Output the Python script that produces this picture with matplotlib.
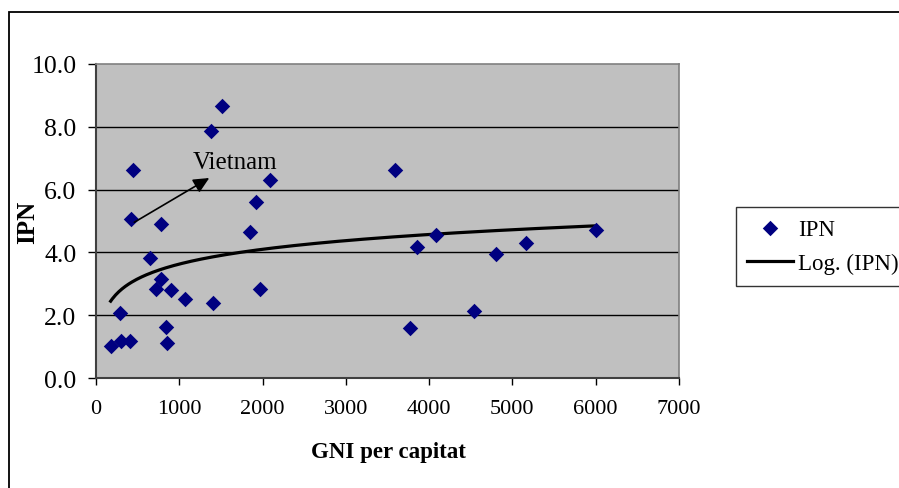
import numpy as np
import matplotlib
matplotlib.use("Agg")
import matplotlib.pyplot as plt
from matplotlib.patches import Rectangle

plt.rcParams["font.family"] = ["Liberation Serif", "DejaVu Serif"]

# GNI per capita vs IPN
gni = [176, 292, 300, 408, 448, 420, 648, 784, 720, 784, 897, 840, 856,
       1065, 1377, 1401, 1513, 1849, 1917, 1969, 2093,
       3589, 3853, 4082, 3766, 4534, 4806, 5166, 6002]
ipn = [1.01, 2.06, 1.17, 1.17, 6.61, 5.07, 3.81, 4.89, 2.85, 3.16, 2.81, 1.61, 1.12,
       2.51, 7.87, 2.38, 8.65, 4.65, 5.60, 2.85, 6.30,
       6.61, 4.17, 4.54, 1.60, 2.14, 3.94, 4.30, 4.70]
x_ticks = [0, 1000, 2000, 3000, 4000, 5000, 6000, 7000]
y_ticks = [0, 2, 4, 6, 8, 10]

W, H = 899, 489
fig = plt.figure(figsize=(W / 100, H / 100), dpi=100)
ax = fig.add_axes([96 / W, 1 - 379 / H, (679 - 96) / W, (379 - 65) / H])
ax.set_facecolor("#c0c0c0")

# outer chart border (only top and left visible)
fig.patches.append(Rectangle((9 / W, -0.1), 1.2, (H - 13) / H + 0.1,
                             transform=fig.transFigure, fill=False,
                             edgecolor="black", lw=1.3))

for y in y_ticks[1:-1]:
    ax.axhline(y, color="black", lw=1.0, zorder=1)

ax.scatter(gni, ipn, marker="D", s=62, color="#000080", zorder=3, label="IPN",
           linewidths=0)

# logarithmic trend line, like Excel's Log. fit
a, b = np.polyfit(np.log(gni), ipn, 1)
xs = np.linspace(min(gni), max(gni), 300)
ax.plot(xs, a * np.log(xs) + b, color="black", lw=2.3, zorder=2, label="Log. (IPN)")

ax.annotate("", xy=(1360, 6.37), xytext=(460, 4.96),
            arrowprops=dict(arrowstyle="-|>,head_length=0.95,head_width=0.45",
                            color="black", lw=1.2, shrinkA=0, shrinkB=0))
ax.text(1165, 6.69, "Vietnam", fontsize=18, ha="left", va="baseline")

ax.set_xlim(0, 7000)
ax.set_ylim(0, 10)
ax.set_xticks(x_ticks)
ax.set_yticks(y_ticks)
ax.set_yticklabels([f"{v:.1f}" for v in y_ticks], fontsize=18.5)
ax.set_xticklabels([str(v) for v in x_ticks], fontsize=16)
ax.tick_params(axis="y", direction="out", length=6, width=1, pad=8)
ax.tick_params(axis="x", direction="out", length=5, width=1, pad=10)

for s in ["left", "bottom"]:
    ax.spines[s].set_color("#404040")
    ax.spines[s].set_linewidth(1.5)
for s in ["top", "right"]:
    ax.spines[s].set_color("#808080")
    ax.spines[s].set_linewidth(1.2)

fig.text(28 / W, 1 - 222 / H, "IPN", rotation=90, fontsize=18, fontweight="bold",
         ha="center", va="center")
fig.text(388 / W, 1 - 453 / H, "GNI per capitat", fontsize=16.5, fontweight="bold",
         ha="center", va="center")

leg = fig.legend(loc="upper left", bbox_to_anchor=(736 / W, 1 - 208 / H),
                 borderaxespad=0, fontsize=16.5, fancybox=False, frameon=True,
                 edgecolor="black", handlelength=2.0, handletextpad=0.2,
                 borderpad=0.5, labelspacing=0.6)
leg.get_frame().set_linewidth(1.0)

fig.savefig("out.png", dpi=100)
